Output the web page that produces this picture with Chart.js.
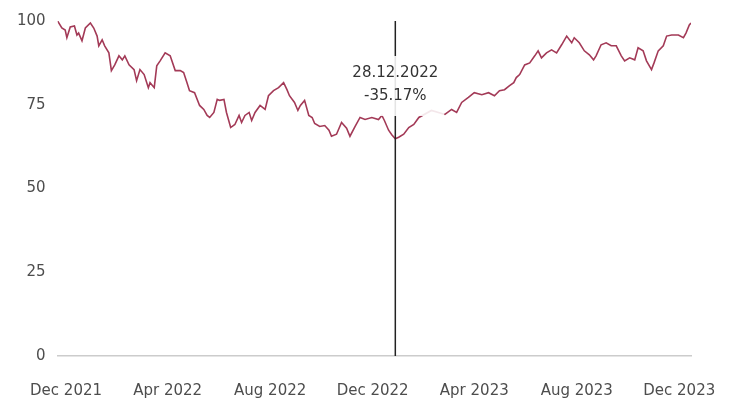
<!DOCTYPE html>
<html>
<head>
<meta charset="utf-8">
<script src="https://cdn.jsdelivr.net/npm/chart.js@4.4.1/dist/chart.umd.min.js"></script>
<style>
  html, body { margin: 0; padding: 0; background: #fff; overflow: hidden; }
  canvas { display: block; }
</style>
</head>
<body>
<canvas id="myChart" width="739" height="404"></canvas>
<script>
// days counted from 1 Dec 2021
const days = [-10,-5,-1,1,5,10,13,15,19,23,29,33,37,39,43,46,51,54,58,63,67,70,75,81,84,88,93,98,100,105,
  108,112,118,124,130,136,140,144,147,153,159,164,168,171,176,180,183,188,191,196,201,206,209,213,218,221,225,231,237,241,
  247,253,259,263,266,272,276,279,284,289,293,296,302,308,313,316,322,328,334,338,344,350,356,364,372,376,379,384,388,392,
  396,402,408,414,420,435,451,459,465,471,479,486,495,503,510,516,522,528,533,536,540,546,552,558,562,566,572,578,584,590,
  596,602,605,611,617,623,628,631,637,643,649,655,661,665,671,677,681,687,691,697,700,705,711,715,721,729,735,738,742,744];

const values = [100,97.9,97.3,95.0,98.2,98.5,95.8,96.4,94.1,97.9,99.4,97.9,95.5,92.6,94.4,92.6,90.5,85.2,86.9,89.6,
  88.4,89.6,86.9,85.5,82.2,85.5,84.0,80.1,81.6,80.1,86.6,88.1,90.5,89.6,85.2,85.2,84.6,81.6,79.2,78.6,
  74.8,73.6,71.8,71.2,72.7,76.6,76.3,76.6,72.7,68.2,69.1,71.8,69.7,71.8,72.7,70.3,72.7,74.8,73.6,77.7,
  79.2,80.1,81.6,79.5,77.7,75.7,73.3,74.8,76.3,71.8,71.2,69.4,68.5,68.8,67.4,65.6,66.2,69.7,68.0,65.6,
  68.5,71.2,70.6,71.2,70.6,71.8,70.3,67.4,66.0,64.83,65.3,66.2,68.2,69.1,71.2,73.3,72.1,73.6,72.7,75.7,
  77.2,78.6,78.0,78.6,77.7,79.2,79.5,80.7,81.6,83.1,84.0,86.9,87.5,89.6,91.1,89.0,90.5,91.4,90.5,92.9,
  95.5,93.5,95.0,93.5,91.1,89.9,88.4,89.6,92.9,93.5,92.6,92.6,89.6,88.1,89.0,88.4,92.0,91.1,88.1,85.5,
  87.5,91.1,92.6,95.5,95.8,95.8,95.0,96.4,98.8,99.4];

// x tick positions (1st of month) and their labels
const tickDays = [0, 121, 243, 365, 486, 608, 730];
const tickLabels = ["Dec 2021", "Apr 2022", "Aug 2022", "Dec 2022", "Apr 2023", "Aug 2023", "Dec 2023"];

const yTicks = [0, 25, 50, 75, 100];

// highlighted day
const markerDay = 392;
const markerLabel = "28.12.2022";

const FONT = "'DejaVu Sans', sans-serif";

const markerPlugin = {
  id: 'marker',
  afterDatasetsDraw(chart) {
    const ctx = chart.ctx;
    const area = chart.chartArea;
    const x = chart.scales.x.getPixelForValue(markerDay);
    const v = values[days.indexOf(markerDay)];
    const pct = (v - 100).toFixed(2) + "%";

    ctx.save();
    // vertical line
    ctx.strokeStyle = "#222";
    ctx.lineWidth = 1.5;
    ctx.beginPath();
    ctx.moveTo(x, area.top);
    ctx.lineTo(x, area.bottom);
    ctx.stroke();

    // label box
    ctx.font = "15px " + FONT;
    const w = Math.max(ctx.measureText(markerLabel).width, ctx.measureText(pct).width) + 12;
    const h = 60;
    const top = area.top + 35;
    ctx.fillStyle = "rgba(255,255,255,0.88)";
    ctx.fillRect(x - w / 2, top, w, h);

    ctx.fillStyle = "#333";
    ctx.textAlign = "center";
    ctx.textBaseline = "middle";
    ctx.fillText(markerLabel, x, top + 17);
    ctx.fillText(pct, x, top + 40);
    ctx.restore();
  }
};

const myChart = new Chart(document.getElementById("myChart"), {
  type: "line",
  data: {
    datasets: [{
      data: days.map((d, i) => ({ x: d, y: values[i] })),
      borderColor: "#a33a57",
      borderWidth: 1.6,
      pointRadius: 0,
      tension: 0,
      fill: false
    }]
  },
  options: {
    responsive: false,
    animation: false,
    layout: {
      padding: { left: 5, right: 48, top: 18, bottom: -22 }
    },
    scales: {
      x: {
        type: "linear",
        min: -10,
        max: 744,
        afterBuildTicks: (scale) => {
          scale.ticks = tickDays.map(v => ({ value: v }));
        },
        ticks: {
          autoSkip: false,
          maxRotation: 0,
          padding: 5,
          color: "#4d4d4d",
          font: { family: FONT, size: 15, lineHeight: 4 },
          callback: (value) => tickLabels[tickDays.indexOf(value)]
        },
        grid: { display: false, drawTicks: false },
        border: { display: true, color: "#cccccc", width: 1.5 }
      },
      y: {
        min: 0,
        max: 100,
        afterBuildTicks: (scale) => {
          scale.ticks = yTicks.map(v => ({ value: v }));
        },
        ticks: {
          padding: 12,
          color: "#4d4d4d",
          font: { family: FONT, size: 15 }
        },
        grid: { display: false, drawTicks: false },
        border: { display: false }
      }
    },
    plugins: {
      legend: { display: false },
      tooltip: { enabled: false },
      title: { display: false }
    }
  },
  plugins: [markerPlugin]
});
</script>
</body>
</html>
